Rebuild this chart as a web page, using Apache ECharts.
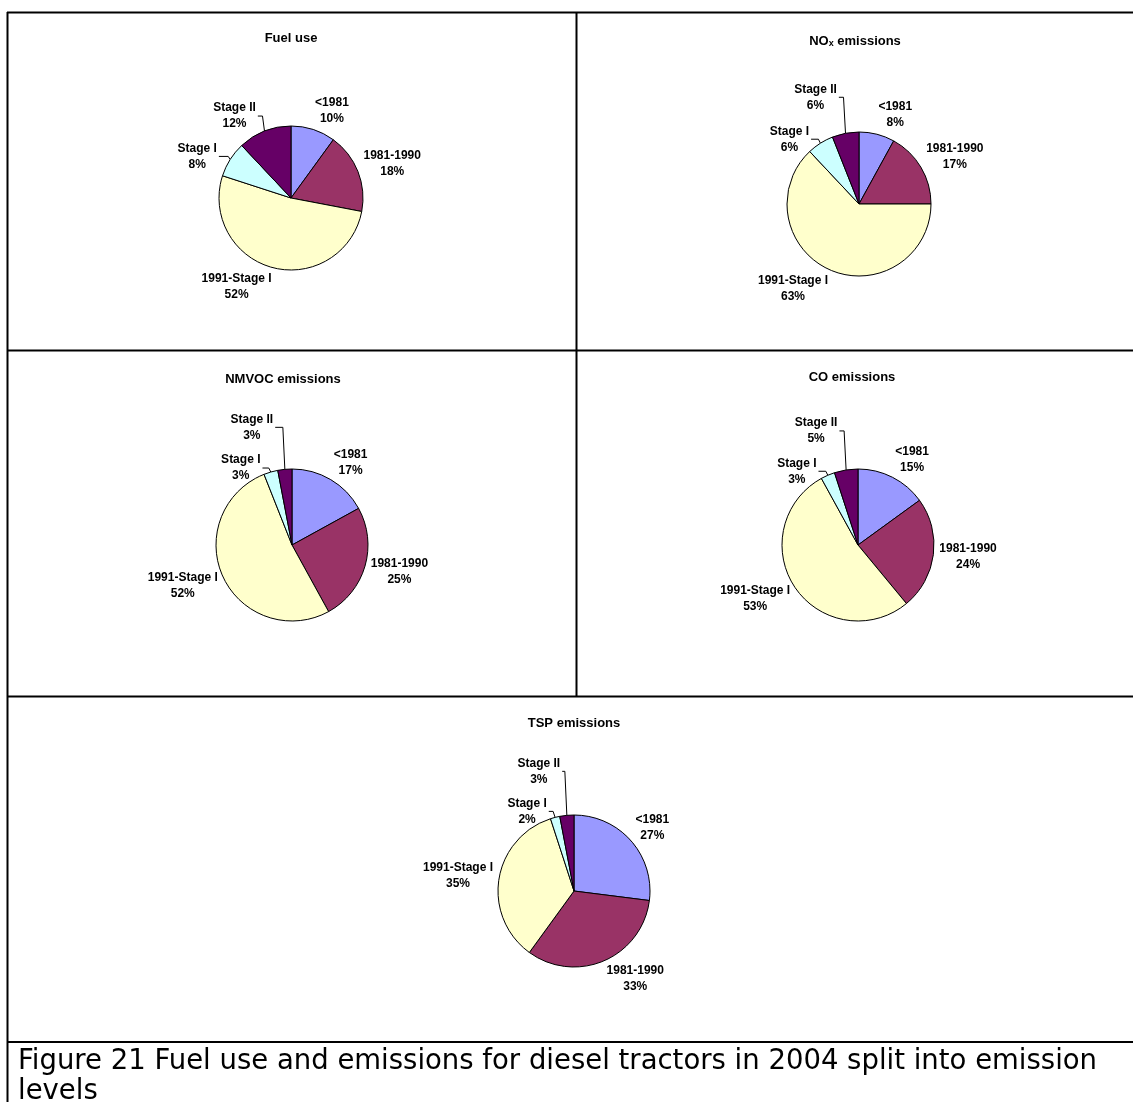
<!DOCTYPE html>
<html>
<head>
<meta charset="utf-8">
<title>Fuel use and emissions for diesel tractors in 2004</title>
<script src="https://cdn.jsdelivr.net/npm/echarts@6/dist/echarts.min.js"></script>
<style>
  html, body { margin: 0; padding: 0; background: #ffffff; }
  #chart { width: 1133px; height: 1102px; }
</style>
</head>
<body>
<div id="chart"></div>
<script>
// Emission levels (slice order, clockwise from 12 o'clock)
const categories = ['<1981', '1981-1990', '1991-Stage I', 'Stage I', 'Stage II'];

// Shares in percent per emission level
const fuelUse        = [10, 18, 52, 8, 12];
const noxEmissions   = [8, 17, 63, 6, 6];
const nmvocEmissions = [17, 25, 52, 3, 3];
const coEmissions    = [15, 24, 53, 3, 5];
const tspEmissions   = [27, 33, 35, 2, 3];

const captionLines = [
  'Figure 21 Fuel use and emissions for diesel tractors in 2004 split into emission',
  'levels'
];

const sliceColors = ['#9999FF', '#993366', '#FFFFCC', '#CCFFFF', '#660066'];
const labelFont = '"Liberation Sans", Arial, sans-serif';

// One panel per pie: centre, radius, title placement, and the hand-placed
// offsets of the leader-line labels (label centre relative to the slice edge).
const panels = [
  { title: 'Fuel use', values: fuelUse, center: [291, 198], radius: 72, titleAt: [291, 38],
    leader: { 3: [-33, -3], 4: [-30, -15] } },
  { title: 'NO{sub|x} emissions', values: noxEmissions, center: [859, 204], radius: 72, titleAt: [855, 41],
    leader: { 3: [-31, -4], 4: [-30, -36] } },
  { title: 'NMVOC emissions', values: nmvocEmissions, center: [292, 545], radius: 76, titleAt: [283, 379],
    leader: { 3: [-30, -4], 4: [-33, -42] } },
  { title: 'CO emissions', values: coEmissions, center: [858, 545], radius: 76, titleAt: [852, 377],
    leader: { 3: [-31, -4], 4: [-30, -39] } },
  { title: 'TSP emissions', values: tspEmissions, center: [574, 891], radius: 76, titleAt: [574, 723],
    leader: { 3: [-28, -6], 4: [-28, -44] } }
];

// Direction (unit vector) of the middle of slice i, clockwise from the top
function midDirection(values, i) {
  const total = values.reduce((s, v) => s + v, 0);
  let before = 0;
  for (let k = 0; k < i; k++) before += values[k];
  const theta = (before + values[i] / 2) / total * Math.PI * 2;
  return [Math.sin(theta), -Math.cos(theta)];
}

function makeLabelLayout(panel) {
  return function (params) {
    const i = params.dataIndex;
    const d = midDirection(panel.values, i);
    const cx = panel.center[0], cy = panel.center[1], r = panel.radius;
    const edge = [cx + r * d[0], cy + r * d[1]];
    const w = params.labelRect.width, h = params.labelRect.height;
    if (panel.leader[i]) {
      const off = panel.leader[i];
      const lx = edge[0] + off[0], ly = edge[1] + off[1];
      return {
        x: lx, y: ly, align: 'center', verticalAlign: 'middle',
        labelLinePoints: [edge, [edge[0] - 2, ly], [lx + w / 2 + 2, ly]]
      };
    }
    // Outside-end placement: the label box sits just beyond the rim,
    // pushed sideways by its half width and vertically in proportion to the angle.
    const gap = 6;
    const a = w / 2, b = h / 2 - 2;
    const sx = Math.sign(d[0]) * Math.min(1, Math.abs(d[0]) * 5);
    const lx = edge[0] + gap * d[0] + a * sx;
    const ly = edge[1] + gap * d[1] + b * d[1];
    return { x: lx, y: ly, align: 'center', verticalAlign: 'middle' };
  };
}

const series = panels.map(function (p) {
  return {
    type: 'pie',
    center: p.center,
    radius: p.radius,
    startAngle: 90,
    clockwise: true,
    avoidLabelOverlap: false,
    animation: false,
    emphasis: { disabled: true },
    itemStyle: { borderColor: '#000000', borderWidth: 1 },
    label: {
      show: true,
      position: 'outside',
      formatter: '{b}\n{c}%',
      color: '#000000',
      fontFamily: labelFont,
      fontWeight: 'bold',
      fontSize: 12,
      lineHeight: 16,
      align: 'center'
    },
    labelLine: { show: false, lineStyle: { color: '#000000', width: 1 } },
    labelLayout: makeLabelLayout(p),
    data: categories.map(function (name, i) {
      const item = { name: name, value: p.values[i], itemStyle: { color: sliceColors[i] } };
      if (p.leader[i]) item.labelLine = { show: true, smooth: false };
      return item;
    })
  };
});

// Frame lines between the panels and around the caption
const frameStroke = { stroke: '#000000', lineWidth: 2 };
function hLine(y, x1, x2) { return { type: 'line', shape: { x1: x1, y1: y, x2: x2, y2: y }, style: frameStroke, silent: true }; }
function vLine(x, y1, y2) { return { type: 'line', shape: { x1: x, y1: y1, x2: x, y2: y2 }, style: frameStroke, silent: true }; }

const graphics = [
  hLine(12.5, 7, 1133),
  vLine(7.5, 12, 1102),
  vLine(576.5, 12, 696),
  hLine(350.5, 7, 1133),
  hLine(696.5, 7, 1133),
  hLine(1042, 7, 1133)
];

panels.forEach(function (p) {
  graphics.push({
    type: 'text',
    x: p.titleAt[0],
    y: p.titleAt[1],
    silent: true,
    style: {
      text: p.title,
      align: 'center',
      verticalAlign: 'middle',
      fill: '#000000',
      font: 'bold 13px ' + labelFont,
      rich: {
        sub: { fontSize: 9, fontWeight: 'bold', fontFamily: labelFont, padding: [6, 0, 0, 0], fill: '#000000' }
      }
    }
  });
});

captionLines.forEach(function (line, i) {
  graphics.push({
    type: 'text',
    x: 18,
    y: 1062 + i * 30,
    silent: true,
    style: {
      text: line,
      align: 'left',
      verticalAlign: 'middle',
      fill: '#000000',
      font: '27.5px "DejaVu Sans", sans-serif'
    }
  });
});

const chart = echarts.init(document.getElementById('chart'), null, { renderer: 'canvas' });
chart.setOption({
  backgroundColor: '#ffffff',
  animation: false,
  series: series,
  graphic: graphics
});
</script>
</body>
</html>
